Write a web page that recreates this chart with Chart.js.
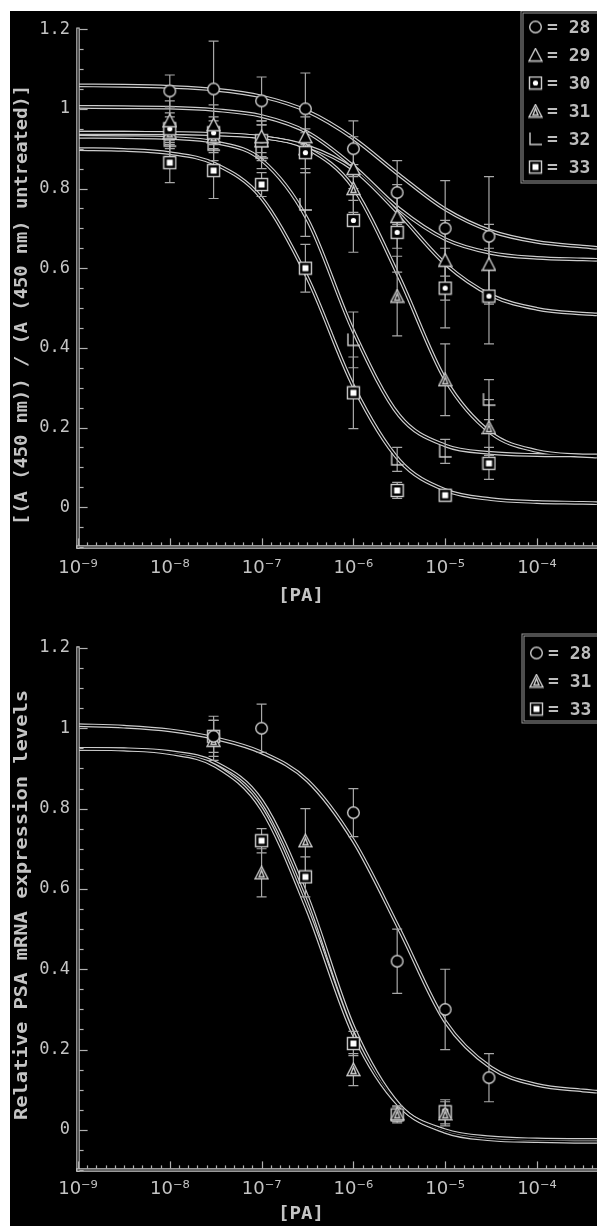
<!DOCTYPE html>
<html>
<head>
<meta charset="utf-8">
<script src="https://cdn.jsdelivr.net/npm/chart.js@4.4.0/dist/chart.umd.min.js"></script>
<style>
  html, body { margin: 0; padding: 0; background: #fff; }
  #sheet { position: absolute; left: 10px; top: 11px; width: 587px; height: 1215px; background: #000; overflow: hidden; }
  #sheet canvas { position: absolute; left: 0; }
</style>
</head>
<body>
<div id="sheet">
  <canvas id="viability-chart" style="top:0"></canvas>
  <canvas id="psa-chart" style="top:594px"></canvas>
</div>
<script>
// doses where measurements were taken (M)
const doses = [1e-8, 3e-8, 1e-7, 3e-7, 1e-6, 3e-6, 1e-5, 3e-5];
const fitDoses = [1e-9, 3.16e-9, 1e-8, 3.16e-8, 1e-7, 3.16e-7, 1e-6, 3.16e-6, 1e-5, 3.16e-5, 1e-4, 3.16e-4, 4.5e-4];

const xTicks = [1e-9, 1e-8, 1e-7, 1e-6, 1e-5, 1e-4];
const xTickLabels = ['10⁻⁹', '10⁻⁸', '10⁻⁷', '10⁻⁶', '10⁻⁵', '10⁻⁴'];
const yTicks = [0, 0.2, 0.4, 0.6, 0.8, 1, 1.2];

// top panel: A(450 nm) relative to untreated
const via28 = [1.045, 1.05, 1.02, 1.0, 0.90, 0.79, 0.70, 0.68];
const via28Err = [0.04, 0.12, 0.06, 0.09, 0.07, 0.08, 0.12, 0.15];
const via28Fit = [1.059, 1.058, 1.055, 1.048, 1.031, 0.994, 0.926, 0.834, 0.748, 0.693, 0.666, 0.654, 0.651];

const via29 = [0.97, 0.96, 0.93, 0.93, 0.85, 0.73, 0.62, 0.61];
const via29Err = [0.05, 0.05, 0.04, 0.05, 0.08, 0.08, 0.10, 0.10];
const via29Fit = [1.005, 1.004, 1.003, 0.997, 0.982, 0.941, 0.856, 0.749, 0.673, 0.638, 0.626, 0.622, 0.621];

const via30 = [0.95, 0.94, 0.92, 0.89, 0.72, 0.69, 0.55, 0.53];
const via30Err = [0.04, 0.04, 0.04, 0.05, 0.08, 0.10, 0.10, 0.12];
const via30Fit = [0.94, 0.94, 0.939, 0.936, 0.929, 0.906, 0.848, 0.736, 0.611, 0.532, 0.498, 0.486, 0.484];

const via31 = [0.94, 0.93, 0.92, 0.90, 0.80, 0.53, 0.32, 0.20];
const via31Err = [0.04, 0.04, 0.05, 0.05, 0.06, 0.10, 0.09, 0.07];
const via31Fit = [0.94, 0.94, 0.939, 0.937, 0.929, 0.900, 0.802, 0.577, 0.321, 0.186, 0.141, 0.129, 0.127];

const via32 = [0.92, 0.91, 0.89, 0.76, 0.42, 0.12, 0.14, 0.27];
const via32Err = [0.04, 0.04, 0.04, 0.08, 0.07, 0.03, 0.03, 0.05];
const via32Fit = [0.93, 0.929, 0.927, 0.916, 0.872, 0.722, 0.442, 0.230, 0.155, 0.136, 0.131, 0.130, 0.130];

const via33 = [0.865, 0.845, 0.81, 0.60, 0.287, 0.042, 0.03, 0.11];
const via33Err = [0.05, 0.07, 0.03, 0.06, 0.09, 0.02, 0.01, 0.04];
const via33Fit = [0.899, 0.897, 0.889, 0.861, 0.776, 0.576, 0.304, 0.118, 0.043, 0.020, 0.013, 0.011, 0.010];

// bottom panel: relative PSA mRNA
const psaDoses28 = [3e-8, 1e-7, 1e-6, 3e-6, 1e-5, 3e-5];
const psa28 = [0.98, 1.00, 0.79, 0.42, 0.30, 0.13];
const psa28Err = [0.05, 0.06, 0.06, 0.08, 0.10, 0.06];
const psa28Fit = [1.008, 1.004, 0.995, 0.975, 0.94, 0.87, 0.72, 0.50, 0.27, 0.155, 0.112, 0.098, 0.095];

const psaDoses = [3e-8, 1e-7, 3e-7, 1e-6, 3e-6, 1e-5];
const psa31 = [0.97, 0.64, 0.72, 0.15, 0.04, 0.04];
const psa31Err = [0.05, 0.06, 0.08, 0.04, 0.02, 0.03];
const psa31Fit = [0.949, 0.947, 0.938, 0.906, 0.799, 0.547, 0.238, 0.060, -0.001, -0.019, -0.024, -0.025, -0.025];

const psa33 = [0.98, 0.72, 0.63, 0.215, 0.037, 0.045];
const psa33Err = [0.04, 0.03, 0.05, 0.03, 0.02, 0.03];
const psa33Fit = [0.949, 0.948, 0.941, 0.914, 0.820, 0.579, 0.256, 0.062, -0.005, -0.024, -0.028, -0.030, -0.030];

const INK = '#cdcdcd';

// little outline glyphs, like the scanned figure
function makeMarker(kind) {
  const c = document.createElement('canvas');
  c.width = 15; c.height = 15;
  const g = c.getContext('2d');
  g.fillStyle = '#000';
  g.strokeStyle = INK;
  g.lineWidth = 1.4;
  const tri = (pad) => {
    g.beginPath();
    g.moveTo(7.5, 1 + pad);
    g.lineTo(14 - pad, 13.5 - pad * 0.5);
    g.lineTo(1 + pad, 13.5 - pad * 0.5);
    g.closePath();
  };
  switch (kind) {
    case 'circle':
      g.beginPath(); g.arc(7.5, 7.5, 5.8, 0, Math.PI * 2); g.fill(); g.stroke();
      break;
    case 'triangle':
      tri(0); g.fill(); g.stroke();
      break;
    case 'dotSquare':
      g.fillRect(1, 1, 13, 13); g.strokeRect(1.5, 1.5, 12, 12);
      g.fillStyle = '#fff'; g.beginPath(); g.arc(7.5, 7.5, 2.6, 0, Math.PI * 2); g.fill();
      break;
    case 'innerTriangle':
      tri(0); g.fill(); g.stroke();
      tri(4); g.stroke();
      break;
    case 'corner':
      g.beginPath(); g.moveTo(2, 1); g.lineTo(2, 13); g.lineTo(14, 13); g.stroke();
      break;
    case 'whiteSquare':
      g.fillRect(1, 1, 13, 13); g.strokeRect(1.5, 1.5, 12, 12);
      g.fillStyle = '#fff'; g.fillRect(4.5, 4.5, 6, 6);
      break;
  }
  return c;
}

function pairs(xs, ys) {
  return xs.map((x, i) => ({ x: x, y: ys[i] }));
}

function curveSets(fit) {
  return [
    { data: pairs(fitDoses, fit), borderColor: INK, borderWidth: 3.8, pointRadius: 0,
      cubicInterpolationMode: 'monotone', order: 3 },
    { data: pairs(fitDoses, fit), borderColor: '#000', borderWidth: 1.4, pointRadius: 0,
      cubicInterpolationMode: 'monotone', order: 2 }
  ];
}

function pointSet(xs, ys, errs, kind) {
  return { data: pairs(xs, ys), errors: errs, showLine: false, pointStyle: makeMarker(kind),
    pointRadius: 7, pointHoverRadius: 7, order: 1 };
}

// axes, error bars, titles and key drawn with the chart's own scales
const decorPlugin = {
  id: 'decor',
  beforeDatasetsDraw(chart) { chart.$barsDone = false; },
  beforeDatasetDraw(chart, args) {
    const ds = chart.data.datasets[args.index];
    if (!ds.errors || chart.$barsDone) return;
    chart.$barsDone = true;
    const { ctx, scales: { y } } = chart;
    ctx.save();
    ctx.strokeStyle = '#a8a8a8';
    ctx.lineWidth = 1.2;
    chart.data.datasets.forEach((set, i) => {
      if (!set.errors) return;
      const meta = chart.getDatasetMeta(i);
      set.data.forEach((p, j) => {
        if (p.y == null) return;
        const px = meta.data[j].x;
        const hi = y.getPixelForValue(p.y + set.errors[j]);
        const lo = y.getPixelForValue(p.y - set.errors[j]);
        ctx.beginPath();
        ctx.moveTo(px, hi); ctx.lineTo(px, lo);
        ctx.moveTo(px - 5, hi); ctx.lineTo(px + 5, hi);
        ctx.moveTo(px - 5, lo); ctx.lineTo(px + 5, lo);
        ctx.stroke();
      });
    });
    ctx.restore();
  },
  afterDraw(chart, args, opts) {
    const { ctx, chartArea: a, scales: { x, y } } = chart;
    ctx.save();
    // hollow axis lines
    const hollow = (x1, y1, x2, y2) => {
      ctx.lineCap = 'square';
      ctx.strokeStyle = INK; ctx.lineWidth = 3.4;
      ctx.beginPath(); ctx.moveTo(x1, y1); ctx.lineTo(x2, y2); ctx.stroke();
      ctx.strokeStyle = '#000'; ctx.lineWidth = 1.2;
      ctx.beginPath(); ctx.moveTo(x1, y1); ctx.lineTo(x2, y2); ctx.stroke();
    };
    hollow(a.left, a.top, a.left, a.bottom);
    hollow(a.left, a.bottom, a.right + 4, a.bottom);

    ctx.strokeStyle = '#b0b0b0';
    ctx.lineWidth = 1.2;
    for (let v = -0.1; v <= 1.2001; v += 0.05) {
      const py = Math.round(y.getPixelForValue(v)) + 0.5;
      const major = yTicks.some(t => Math.abs(t - v) < 1e-6);
      ctx.beginPath(); ctx.moveTo(a.left + 2, py); ctx.lineTo(a.left + (major ? 9 : 5), py); ctx.stroke();
    }
    for (let e = -9; e <= -3.4; e += 0.1) {
      const px = Math.round(x.getPixelForValue(Math.pow(10, e))) + 0.5;
      const major = Math.abs(e - Math.round(e)) < 1e-6;
      ctx.beginPath(); ctx.moveTo(px, a.bottom - 2); ctx.lineTo(px, a.bottom - (major ? 8 : 4)); ctx.stroke();
    }

    // axis titles
    ctx.fillStyle = '#c4c4c4';
    ctx.textAlign = 'center';
    ctx.textBaseline = 'middle';
    const fitted = (text, cx, cy, len, font, rot) => {
      ctx.save();
      ctx.font = font;
      ctx.translate(cx, cy);
      if (rot) ctx.rotate(-Math.PI / 2);
      ctx.scale(len / ctx.measureText(text).width, 1);
      ctx.fillText(text, 0, 0);
      ctx.restore();
    };
    fitted(opts.yTitle, 12, opts.yTitleY, opts.yTitleLen, 'bold 18px "DejaVu Sans Mono"', true);
    fitted('[PA]', 291, opts.xTitleY, 46, 'bold 18px "DejaVu Sans Mono"', false);

    // key box
    const k = opts.key;
    ctx.strokeStyle = '#9a9a9a'; ctx.lineWidth = 3;
    ctx.strokeRect(k.left, k.top, 120, k.height);
    ctx.strokeStyle = '#000'; ctx.lineWidth = 1;
    ctx.strokeRect(k.left, k.top, 120, k.height);
    ctx.font = 'bold 18px "DejaVu Sans Mono"';
    ctx.textAlign = 'left';
    ctx.fillStyle = '#bdbdbd';
    k.labels.forEach((label, i) => {
      const cy = k.top + k.first + i * k.step;
      ctx.drawImage(makeMarker(k.markers[i]), k.left + 6, cy - 7.5);
      ctx.fillText(label, k.left + 25, cy + 1);
    });
    ctx.restore();
  }
};

function makeChart(id, height, top, xHeight, datasets, decor) {
  const canvas = document.getElementById(id);
  canvas.width = 587;
  canvas.height = height;
  return new Chart(canvas.getContext('2d'), {
    type: 'line',
    data: { datasets: datasets },
    options: {
      responsive: false,
      animation: false,
      events: [],
      layout: { padding: { top: top, left: 0, right: 0, bottom: 0 }, autoPadding: false },
      plugins: { legend: { display: false }, tooltip: { enabled: false }, decor: decor },
      scales: {
        x: {
          type: 'logarithmic',
          min: 1e-9,
          max: Math.pow(10, -3.346),
          grid: { display: false, drawTicks: false, tickLength: 0 },
          border: { display: false },
          afterBuildTicks: (s) => { s.ticks = xTicks.map(v => ({ value: v })); },
          afterFit: (s) => { s.height = xHeight; },
          ticks: {
            autoSkip: false, maxRotation: 0, padding: decor.xPad, color: '#c4c4c4',
            font: { family: 'DejaVu Sans', size: 18 },
            callback: (v, i) => xTickLabels[i]
          }
        },
        y: {
          type: 'linear',
          min: -0.1,
          max: 1.2,
          grid: { display: false, drawTicks: false, tickLength: 0 },
          border: { display: false },
          afterBuildTicks: (s) => { s.ticks = yTicks.map(v => ({ value: v })); },
          afterFit: (s) => { s.width = 68; },
          ticks: {
            padding: 8, color: '#c4c4c4',
            font: { family: 'DejaVu Sans Mono', size: 17 },
            callback: (v) => String(v)
          }
        }
      }
    },
    plugins: [decorPlugin]
  });
}

makeChart('viability-chart', 594, 14, 58, [
  ...curveSets(via28Fit), ...curveSets(via29Fit), ...curveSets(via30Fit),
  ...curveSets(via31Fit), ...curveSets(via32Fit), ...curveSets(via33Fit),
  pointSet(doses, via28, via28Err, 'circle'),
  pointSet(doses, via29, via29Err, 'triangle'),
  pointSet(doses, via30, via30Err, 'dotSquare'),
  pointSet(doses, via31, via31Err, 'innerTriangle'),
  pointSet(doses, via32, via32Err, 'corner'),
  pointSet(doses, via33, via33Err, 'whiteSquare')
], {
  yTitle: '[(A (450 nm)) / (A (450 nm) untreated)]', yTitleY: 294, yTitleLen: 440, xTitleY: 585, xPad: 11,
  key: { left: 512, top: 1, height: 170, first: 15, step: 28,
    labels: ['= 28', '= 29', '= 30', '= 31', '= 32', '= 33'],
    markers: ['circle', 'triangle', 'dotSquare', 'innerTriangle', 'corner', 'whiteSquare'] }
});

makeChart('psa-chart', 621, 43, 56, [
  ...curveSets(psa28Fit), ...curveSets(psa31Fit), ...curveSets(psa33Fit),
  pointSet(psaDoses28, psa28, psa28Err, 'circle'),
  pointSet(psaDoses, psa31, psa31Err, 'innerTriangle'),
  pointSet(psaDoses, psa33, psa33Err, 'whiteSquare')
], {
  yTitle: 'Relative PSA mRNA expression levels', yTitleY: 300, yTitleLen: 430, xTitleY: 609, xPad: 9,
  key: { left: 513, top: 30, height: 87, first: 18, step: 28,
    labels: ['= 28', '= 31', '= 33'],
    markers: ['circle', 'innerTriangle', 'whiteSquare'] }
});
</script>
</body>
</html>
